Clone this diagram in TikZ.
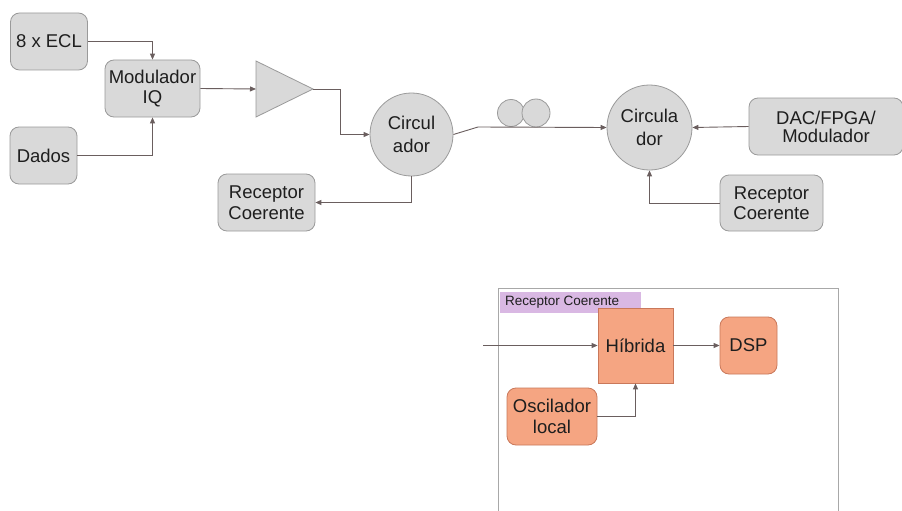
\documentclass[tikz,border=0pt]{standalone}
\usepackage{fontspec}
\setmainfont{Liberation Sans}
\usetikzlibrary{arrows.meta}
\definecolor{boxfill}{HTML}{D9D9D9}
\definecolor{boxline}{HTML}{9A9A9A}
\definecolor{wire}{HTML}{6A5E5E}
\definecolor{txt}{HTML}{1E1E1E}
\definecolor{salmon}{HTML}{F5A582}
\definecolor{salmonline}{HTML}{C9785A}
\definecolor{lilac}{HTML}{D9B8E3}
\definecolor{frameline}{HTML}{A8A8A8}
\tikzset{
  gbox/.style={draw=boxline, fill=boxfill, rounded corners=9pt, line width=0.8pt,
    align=center, text=txt, font=\fontsize{18.5}{20.5}\selectfont, inner sep=0pt},
  gcirc/.style={draw=boxline, fill=boxfill, circle, line width=0.8pt,
    align=center, text=txt, font=\fontsize{18.5}{22.5}\selectfont, inner sep=0pt},
  obox/.style={draw=salmonline, fill=salmon, line width=0.8pt,
    align=center, text=txt, font=\fontsize{18.5}{21}\selectfont, inner sep=0pt},
  wireline/.style={draw=wire, line width=0.9pt},
  arr/.style={wireline, -{Triangle[length=6pt,width=5pt]}},
}
\begin{document}
\begin{tikzpicture}[x=1pt,y=-1pt]
\useasboundingbox (0,0) rectangle (902,511);
\fill[white] (0,0) rectangle (902,511);

% transmitter side
\node[gbox, minimum width=77pt, minimum height=57pt] (ecl) at (49,41.5) {8 x ECL};
\node[gbox, minimum width=95pt, minimum height=57pt] (mod) at (152.5,88.5) {Modulador\\IQ};
\node[gbox, minimum width=67pt, minimum height=57pt] (dados) at (43.5,155.5) {Dados};

% amplifier
\coordinate (ampin) at (256,89);
\coordinate (ampout) at (313,89);
\draw[draw=boxline, fill=boxfill, line width=0.8pt] (256,61) -- (ampout) -- (256,117) -- cycle;

% circulators
\node[gcirc, minimum size=83pt] (c1) at (411.5,134.5) {Circul\\ador};
\node[gcirc, minimum size=85pt] (c2) at (649.5,127.5) {Circula\\dor};

% fiber spool
\node[gcirc, minimum size=27pt] (f1) at (511,113) {};
\node[gcirc, minimum size=28pt] (f2) at (536,113) {};

% receivers and remote source
\node[gbox, minimum width=97pt, minimum height=57pt] (rx1) at (266.5,202.5) {Receptor\\Coerente};
\node[gbox, minimum width=103pt, minimum height=56pt] (rx2) at (771.5,203) {Receptor\\Coerente};
\node[gbox, font=\fontsize{18.5}{18}\selectfont, minimum width=154pt, minimum height=57pt] (dac) at (826,126.5) {DAC/FPGA/\\Modulador};

% connections
\draw[arr] (ecl.east) -| (mod.north);
\draw[arr] (dados.east) -| (mod.south);
\draw[arr] (mod.east) -- (ampin);
\draw[arr] (ampout) -- (340,89) |- (c1.west);
\coordinate (kink) at (478,127);
\draw[wireline] (c1.east) -- (kink);
\draw[arr] (kink) -- (c2.west);
\draw[arr] (c1.south) |- (rx1.east);
\draw[arr] (dac.west) -- (c2.east);
\draw[arr] (rx2.west) -| (c2.south);

% coherent receiver detail
\draw[draw=frameline, line width=0.8pt] (498,515) -- (498,288) -- (838,288) -- (838,515);
\node[fill=lilac, minimum width=141pt, minimum height=21pt, inner sep=0pt] (lab) at (570.5,302) {};
\node[anchor=west, text=txt, font=\fontsize{13.5}{15}\selectfont, inner sep=0pt] at (505,302) {Receptor Coerente};
\node[obox, minimum width=75pt, minimum height=75pt] (hib) at (635.5,345.5) {Híbrida};
\node[obox, rounded corners=9pt, minimum width=57pt, minimum height=57pt] (dsp) at (748.5,345.5) {DSP};
\node[obox, rounded corners=9pt, minimum width=90pt, minimum height=57pt] (lo) at (552,416.5) {Oscilador\\local};
\coordinate (rxin) at (483,345.5);
\draw[arr] (rxin) -- (hib.west);
\draw[arr] (hib.east) -- (dsp.west);
\draw[arr] (lo.east) -| (hib.south);
\end{tikzpicture}
\end{document}
